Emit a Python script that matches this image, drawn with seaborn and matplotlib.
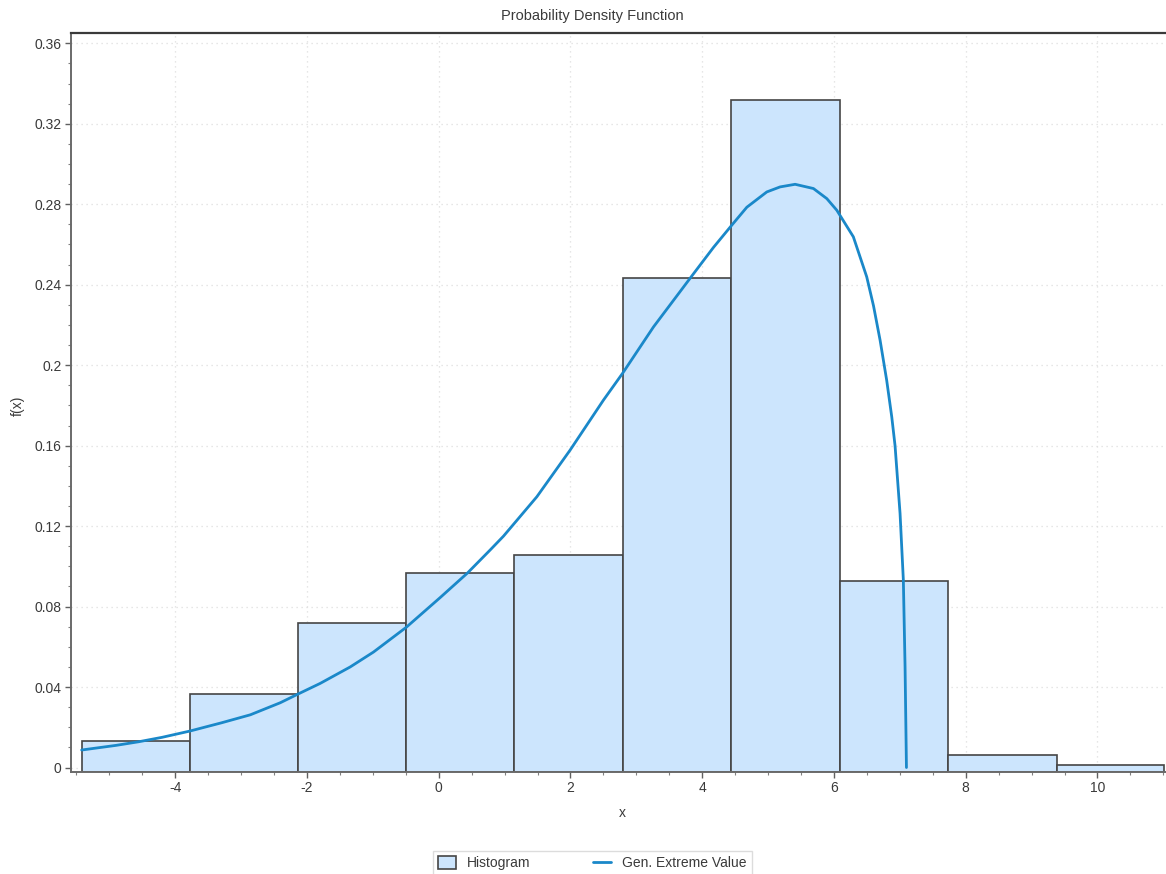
import numpy as np
import matplotlib
matplotlib.use("Agg")
import matplotlib.pyplot as plt
import seaborn as sns
from matplotlib.ticker import MultipleLocator, FormatStrFormatter

# histogram (density per bin)
bin_edges = [-5.42, -3.78, -2.137, -0.493, 1.15, 2.79, 4.44, 6.09, 7.736, 9.38, 11.01]
bin_heights = [0.0133, 0.0367, 0.0720, 0.0965, 0.1055, 0.2432, 0.3317, 0.0928, 0.0063, 0.0012]

# fitted Gen. Extreme Value pdf
curve_x = [-5.42, -4.90, -4.555, -4.20, -3.78, -3.30, -2.86, -2.405, -2.137, -1.80,
           -1.343, -0.99, -0.493, 0.023, 0.437, 0.78, 0.983, 1.49, 1.995, 2.50,
           2.79, 3.26, 3.66, 3.816, 4.17, 4.449, 4.677, 4.98, 5.182, 5.41,
           5.688, 5.891, 6.043, 6.294, 6.497, 6.60, 6.70, 6.80, 6.877, 6.927,
           7.003, 7.053, 7.079, 7.10]
curve_y = [0.0087, 0.0110, 0.0128, 0.0150, 0.0181, 0.0222, 0.0262, 0.0322, 0.0365, 0.0418,
           0.0500, 0.0574, 0.0697, 0.0845, 0.0967, 0.1081, 0.1150, 0.1346, 0.1578, 0.1826,
           0.1959, 0.2190, 0.2364, 0.2432, 0.2585, 0.2696, 0.2785, 0.2861, 0.2886, 0.2899,
           0.2878, 0.2828, 0.2770, 0.2638, 0.2439, 0.2295, 0.2124, 0.1925, 0.1743, 0.1600,
           0.1263, 0.0932, 0.0501, 0.0]

bin_mids = [(a + b) / 2 for a, b in zip(bin_edges[:-1], bin_edges[1:])]

sns.set_style("white")
plt.rcParams['font.family'] = ['Liberation Sans Narrow', 'Liberation Sans', 'DejaVu Sans']
plt.rcParams['axes.unicode_minus'] = False

text_col = '#3a3a3a'
fig = plt.figure(figsize=(11.66, 8.74), dpi=100)
ax = fig.add_axes([0.061, 0.117, 0.939, 0.845])

sns.histplot(x=bin_mids, weights=bin_heights, bins=bin_edges, ax=ax,
             color='#cce5fd', alpha=1, edgecolor='#454545', linewidth=1.2,
             label='Histogram')
ymin = -0.0021
# bars reach down to the axis line like in the original
for p in ax.patches:
    h = p.get_height()
    p.set_y(ymin)
    p.set_height(h - ymin)

sns.lineplot(x=curve_x, y=curve_y, ax=ax, sort=False, color='#1a88c9',
             linewidth=2, label='Gen. Extreme Value')

ax.set_xlim(-5.58, 11.04)
ax.set_ylim(ymin, 0.365)

ax.xaxis.set_major_locator(MultipleLocator(2))
ax.xaxis.set_minor_locator(MultipleLocator(0.5))
ax.yaxis.set_major_locator(MultipleLocator(0.04))
ax.yaxis.set_minor_locator(MultipleLocator(0.01))
ax.xaxis.set_major_formatter(FormatStrFormatter('%g'))
ax.yaxis.set_major_formatter(FormatStrFormatter('%g'))

ax.tick_params(which='major', direction='out', length=4, width=1, color='#606060',
               labelsize=10, labelcolor=text_col, bottom=True, left=True, pad=3)
ax.tick_params(which='minor', direction='out', length=2.5, width=0.8, color='#808080',
               bottom=True, left=True)

ax.grid(True, which='major', color='#dedede', linestyle=(0, (1, 3)), linewidth=0.9)
ax.set_axisbelow(True)

for s in ['left', 'bottom']:
    ax.spines[s].set_color('#6a6a6a')
    ax.spines[s].set_linewidth(1.4)
ax.spines['top'].set_color('#3a3a3a')
ax.spines['top'].set_linewidth(1.6)
ax.spines['right'].set_visible(False)

ax.set_xlabel('x', fontsize=10, color=text_col)
ax.xaxis.set_label_coords(0.503, -0.047)
ax.set_ylabel('f(x)', fontsize=10, color=text_col)
ax.yaxis.set_label_coords(-0.042, 0.495)

fig.text(0.508, 0.982, 'Probability Density Function', ha='center', va='center',
         fontsize=10.5, color=text_col)

handles, labels = ax.get_legend_handles_labels()
ax.get_legend().remove()
order = [labels.index('Histogram'), labels.index('Gen. Extreme Value')]
leg = fig.legend([handles[i] for i in order], [labels[i] for i in order],
                 loc='upper center', bbox_to_anchor=(0.508, 0.034),
                 ncol=2, frameon=True, fancybox=False, fontsize=10,
                 handlelength=1.3, handleheight=1.1, columnspacing=4.5,
                 borderpad=0.35, labelcolor=text_col)
leg.get_frame().set_edgecolor('#d4d4d4')
leg.get_frame().set_linewidth(1)

fig.savefig('out.png', dpi=100)
